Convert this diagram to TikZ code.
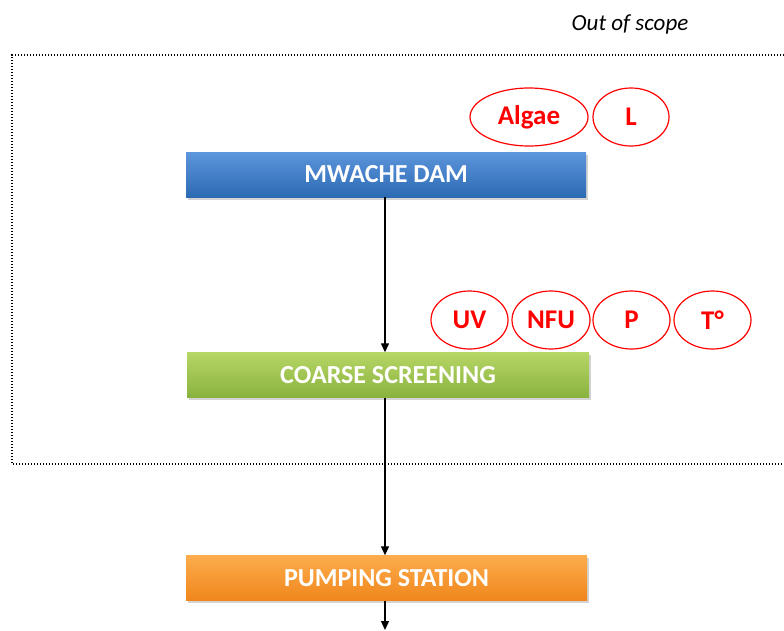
\documentclass[tikz,border=0pt]{standalone}
\usepackage{fontspec}
\setmainfont{Carlito}
\usetikzlibrary{shapes.geometric,arrows.meta,shadows}
\definecolor{redc}{HTML}{FF0000}
\tikzset{
  stage/.style={draw=none, minimum width=400pt, minimum height=45pt, inner sep=0pt,
     font=\fontsize{26}{30}\selectfont\bfseries, text=white,
     drop shadow={shadow xshift=1.5pt, shadow yshift=-2.5pt, opacity=0.35}},
  param/.style={ellipse, draw=redc, line width=1.2pt, minimum height=58pt, inner sep=0pt,
     text=redc, font=\fontsize{27}{30}\selectfont\bfseries},
  flow/.style={-{Triangle[length=9pt,width=8pt]}, line width=1.3pt},
  scopeline/.style={line width=1.4pt, dash pattern=on 1.4pt off 1.6pt}
}
\begin{document}
\begin{tikzpicture}[x=1pt,y=-1pt]
\path[use as bounding box] (0,0) rectangle (784,630);
% scope frame
\coordinate (tl) at (12,55);
\coordinate (tr) at (784,55);
\coordinate (bl) at (12,464);
\coordinate (br) at (784,464);
\draw[scopeline] (tr) -- (tl) -- (bl) -- (br);
\node[font=\fontsize{23}{26}\selectfont\itshape] (oos) at (630,24) {Out of scope};
% stages
\node[stage, top color={rgb,255:red,92;green,150;blue,220}, bottom color={rgb,255:red,44;green,106;blue,180}] (dam) at (386,174.5) {MWACHE DAM};
\node[stage, minimum width=402pt, top color={rgb,255:red,182;green,214;blue,102}, bottom color={rgb,255:red,138;green,178;blue,62}] (screen) at (388,375) {COARSE SCREENING};
\node[stage, minimum width=401pt, top color={rgb,255:red,252;green,172;blue,76}, bottom color={rgb,255:red,240;green,134;blue,28}] (pump) at (386.5,578) {PUMPING STATION};
% parameters
\node[param, minimum width=118pt] (algae) at (529,117) {Algae};
\node[param, minimum width=76pt] (l) at (631,117) {L};
\node[param, minimum width=77pt] (uv) at (469.5,320) {UV};
\node[param, minimum width=78pt] (nfu) at (551,320) {NFU};
\node[param, minimum width=77pt] (p) at (631.5,320) {P};
\node[param, minimum width=77pt] (t) at (712.5,320) {T°};
% flow
\coordinate (out) at (385,630);
\draw[flow] (dam.south -| 385,0) -- (screen.north -| 385,0);
\draw[flow] (screen.south -| 385,0) -- (pump.north -| 385,0);
\draw[flow] (pump.south -| 385,0) -- (out);
\end{tikzpicture}
\end{document}
